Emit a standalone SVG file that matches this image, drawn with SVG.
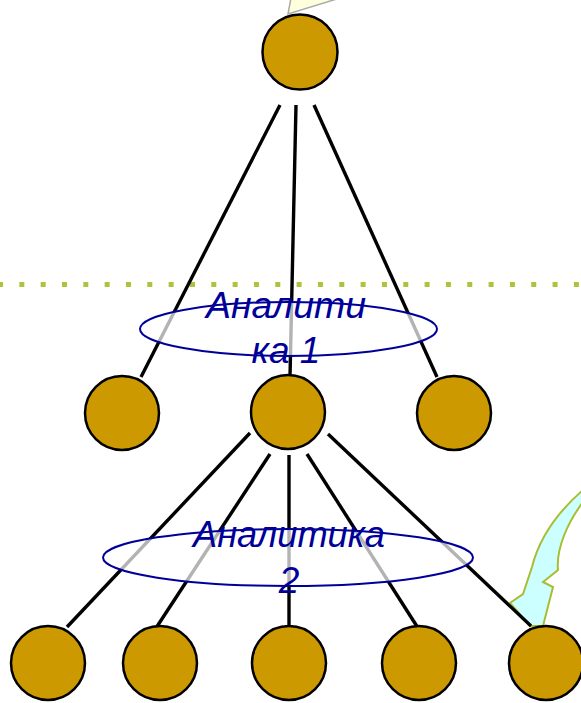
<svg xmlns="http://www.w3.org/2000/svg" width="581" height="703" viewBox="0 0 581 703">
<style>
.node{fill:#cc9900;stroke:#000;stroke-width:2.5}
.edge{stroke:#000;stroke-width:3.4;fill:none}
.oval{fill:#fff;fill-opacity:0.7;stroke:#000099;stroke-width:2}
.lbl{font-family:"Liberation Sans",Arial,sans-serif;font-style:italic;font-size:37px;fill:#000099;text-anchor:middle}
</style>
<rect width="581" height="703" fill="#fff"/>
<path id="callout" d="M288,14 L291,-2 L340,-2 Z" fill="#ffffdd" stroke="#aaaaaa" stroke-width="1.5"/>
<line id="divider" x1="-2" y1="284.5" x2="590" y2="284.5" stroke="#b0c23a" stroke-width="5" stroke-dasharray="5 16.33"/>
<path id="arrow" d="M583,490 C560,510 540,535 532,567 L523,594 L510,603 L530,626 L543,626 L553,587 L543,582 L558,570 C556,548 568,522 583,502 Z" fill="#ccffff" stroke="#a9bd34" stroke-width="2"/>
<g id="connectors">
<line class="edge" x1="280" y1="105" x2="141" y2="377"/>
<line class="edge" x1="296" y1="105" x2="290" y2="377"/>
<line class="edge" x1="314" y1="105" x2="437" y2="377"/>
<line class="edge" x1="250" y1="433" x2="67" y2="627"/>
<line class="edge" x1="270" y1="454" x2="156" y2="628"/>
<line class="edge" x1="289" y1="455" x2="289" y2="627"/>
<line class="edge" x1="307" y1="454" x2="418" y2="628"/>
<line class="edge" x1="328" y1="434" x2="531" y2="626"/>
</g>
<g id="label1">
<ellipse class="oval" cx="288.5" cy="329" rx="148.5" ry="27"/>
<text class="lbl" x="286" y="318" textLength="160" lengthAdjust="spacingAndGlyphs">Аналити</text>
<text class="lbl" x="286" y="363">ка 1</text>
</g>
<g id="label2">
<ellipse class="oval" cx="288" cy="557.5" rx="185" ry="28.5"/>
<text class="lbl" x="289" y="547" textLength="192" lengthAdjust="spacingAndGlyphs">Аналитика</text>
<text class="lbl" x="289" y="593">2</text>
</g>
<g id="n0"><circle class="node" cx="300" cy="52" r="37.5"/></g>
<g id="n1"><circle class="node" cx="122" cy="413" r="37"/></g>
<g id="n2"><circle class="node" cx="288" cy="412" r="37"/></g>
<g id="n3"><circle class="node" cx="454" cy="413" r="37"/></g>
<g id="n4"><circle class="node" cx="48" cy="663" r="37"/></g>
<g id="n5"><circle class="node" cx="160" cy="663" r="37"/></g>
<g id="n6"><circle class="node" cx="289" cy="663" r="37"/></g>
<g id="n7"><circle class="node" cx="419" cy="663" r="37"/></g>
<g id="n8"><circle class="node" cx="546" cy="663" r="37"/></g>
</svg>
